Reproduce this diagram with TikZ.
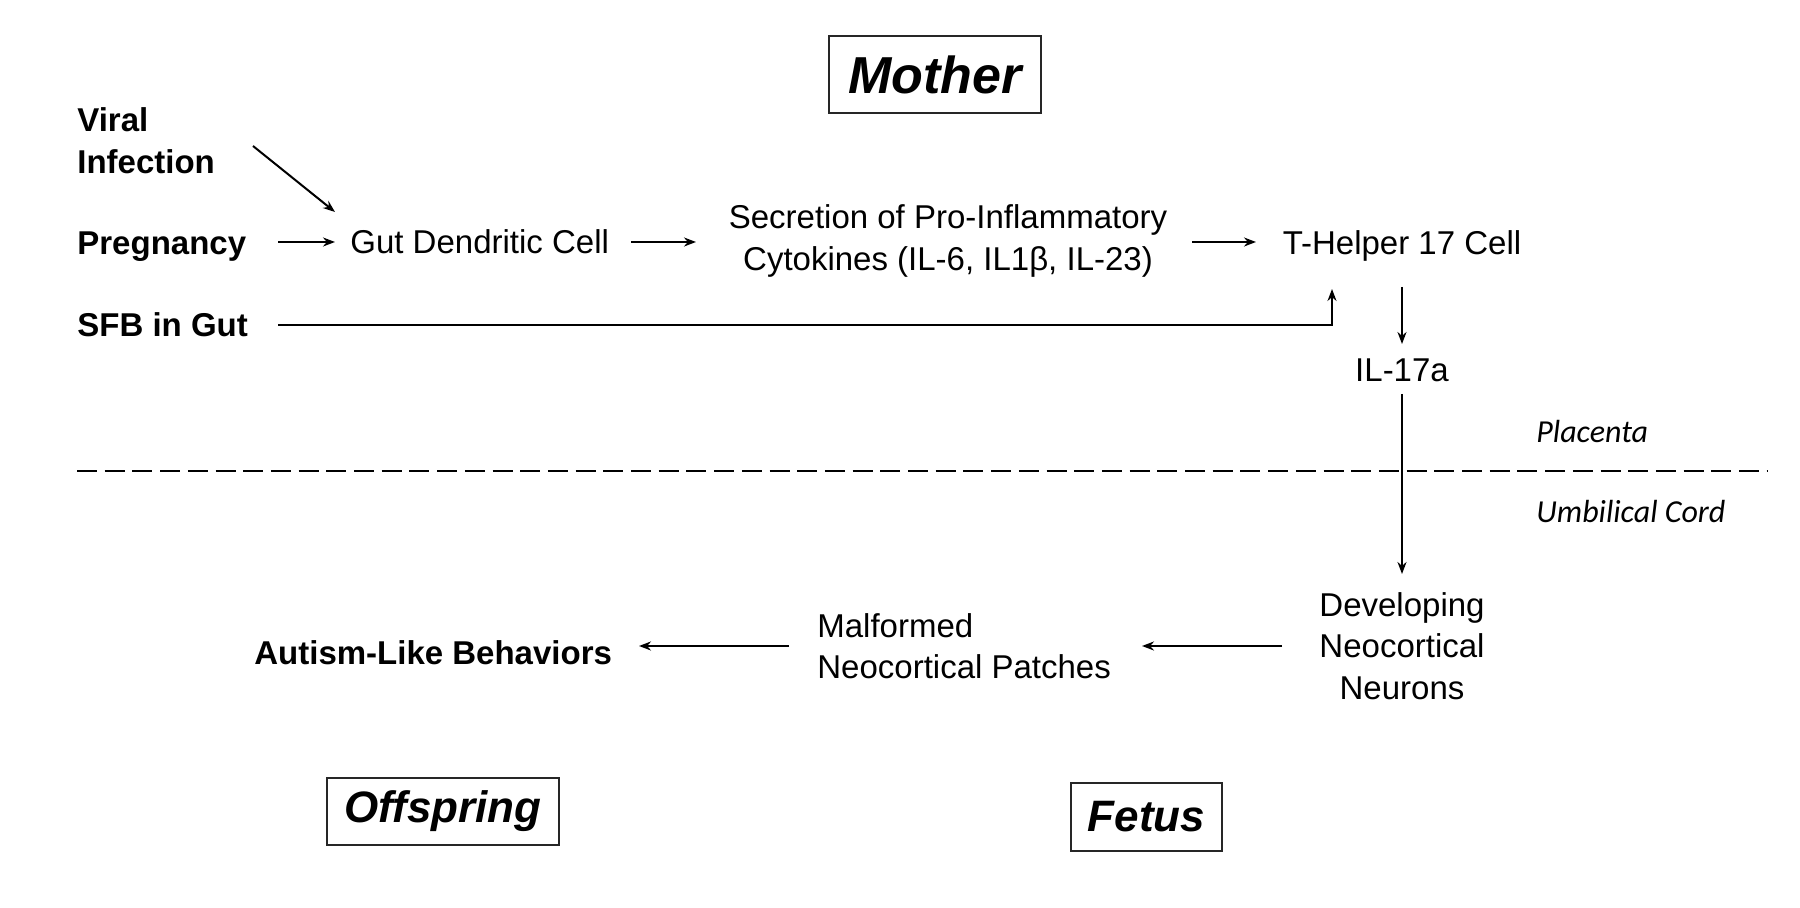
\documentclass[tikz,border=0pt]{standalone}
\usepackage{fontspec}
\setmainfont{Liberation Sans}
\newfontfamily\calfont{Carlito}
\usetikzlibrary{arrows.meta}
\begin{document}
\begin{tikzpicture}[x=0.5pt,y=-0.5pt,
  txt/.style={inner sep=0pt,font=\fontsize{16.5}{20.75}\selectfont},
  btxt/.style={txt,font=\fontsize{16.5}{20.75}\selectfont\bfseries},
  itxt/.style={inner sep=0pt,font=\fontsize{16}{20}\selectfont\calfont\itshape},
  titlebox/.style={draw=black!85,line width=0.7pt,inner sep=0pt,font=\bfseries\itshape},
  arr/.style={line width=1pt,-{Stealth[length=6pt,width=4.5pt]}}]
\useasboundingbox (0,0) rectangle (1800,908);

% titles
\node[titlebox,minimum width=106pt,minimum height=38.5pt,font=\fontsize{26}{30}\selectfont\bfseries\itshape] (mother) at (935,74.5) {Mother};
\node[titlebox,minimum width=116pt,minimum height=33.5pt,font=\fontsize{22}{26}\selectfont\bfseries\itshape] (offspring) at (443,811.5) {Offspring};
\node[titlebox,minimum width=75.5pt,minimum height=34pt,font=\fontsize{22}{26}\selectfont\bfseries\itshape] (fetus) at (1146.5,817) {Fetus};

% mother row
\node[btxt,anchor=west,align=left] (viral) at (77,140.5) {Viral\\Infection};
\node[btxt,anchor=west] (preg) at (77,247) {Pregnancy};
\node[btxt,anchor=west] (sfb) at (77,325) {SFB in Gut};
\node[txt,anchor=west] (gut) at (350,242) {Gut Dendritic Cell};
\node[txt,align=center] (secr) at (948,241) {Secretion of Pro-Inflammatory\\Cytokines (IL-6, IL1β, IL-23)};
\node[txt] (th17) at (1402,246) {T-Helper 17 Cell};
\node[txt] (il17) at (1402,370) {IL-17a};

% barrier
\node[itxt,anchor=west] (placenta) at (1536,432) {Placenta};
\node[itxt,anchor=west] (umbilical) at (1536,512) {Umbilical Cord};
\draw[line width=1.2pt,dash pattern=on 10pt off 3.85pt] (77,471) -- (1768,471);

% fetus row
\node[txt,align=center] (dev) at (1402,646) {Developing\\Neocortical\\Neurons};
\node[txt,anchor=west,align=left] (malf) at (817,646) {Malformed\\Neocortical Patches};
\node[btxt,anchor=west] (autism) at (254,653) {Autism-Like Behaviors};

% connectors
\draw[arr] ([shift={(176,5.5)}]viral.west) -- ([shift={(-15,-30)}]gut.west);
\draw[arr] ([shift={(201,-5)}]preg.west) -- ([shift={(-15,0)}]gut.west);
\draw[arr] ([shift={(281,0)}]gut.west) -- ([shift={(-252,1)}]secr.center);
\draw[arr] ([shift={(244,1)}]secr.center) -- ([shift={(-146,-4)}]th17.center);
\draw[arr] ([shift={(201,0)}]sfb.west) -| ([shift={(-70,43)}]th17.center);
\draw[arr] ([shift={(0,41)}]th17.center) -- ([shift={(0,-26)}]il17.center);
\draw[arr] ([shift={(0,24)}]il17.center) -- ([shift={(0,-72)}]dev.center);
\draw[arr] ([shift={(-120,0)}]dev.center) -- ([shift={(325,0)}]malf.west);
\draw[arr] ([shift={(-28,0)}]malf.west) -- ([shift={(385,-7)}]autism.west);
\end{tikzpicture}
\end{document}
